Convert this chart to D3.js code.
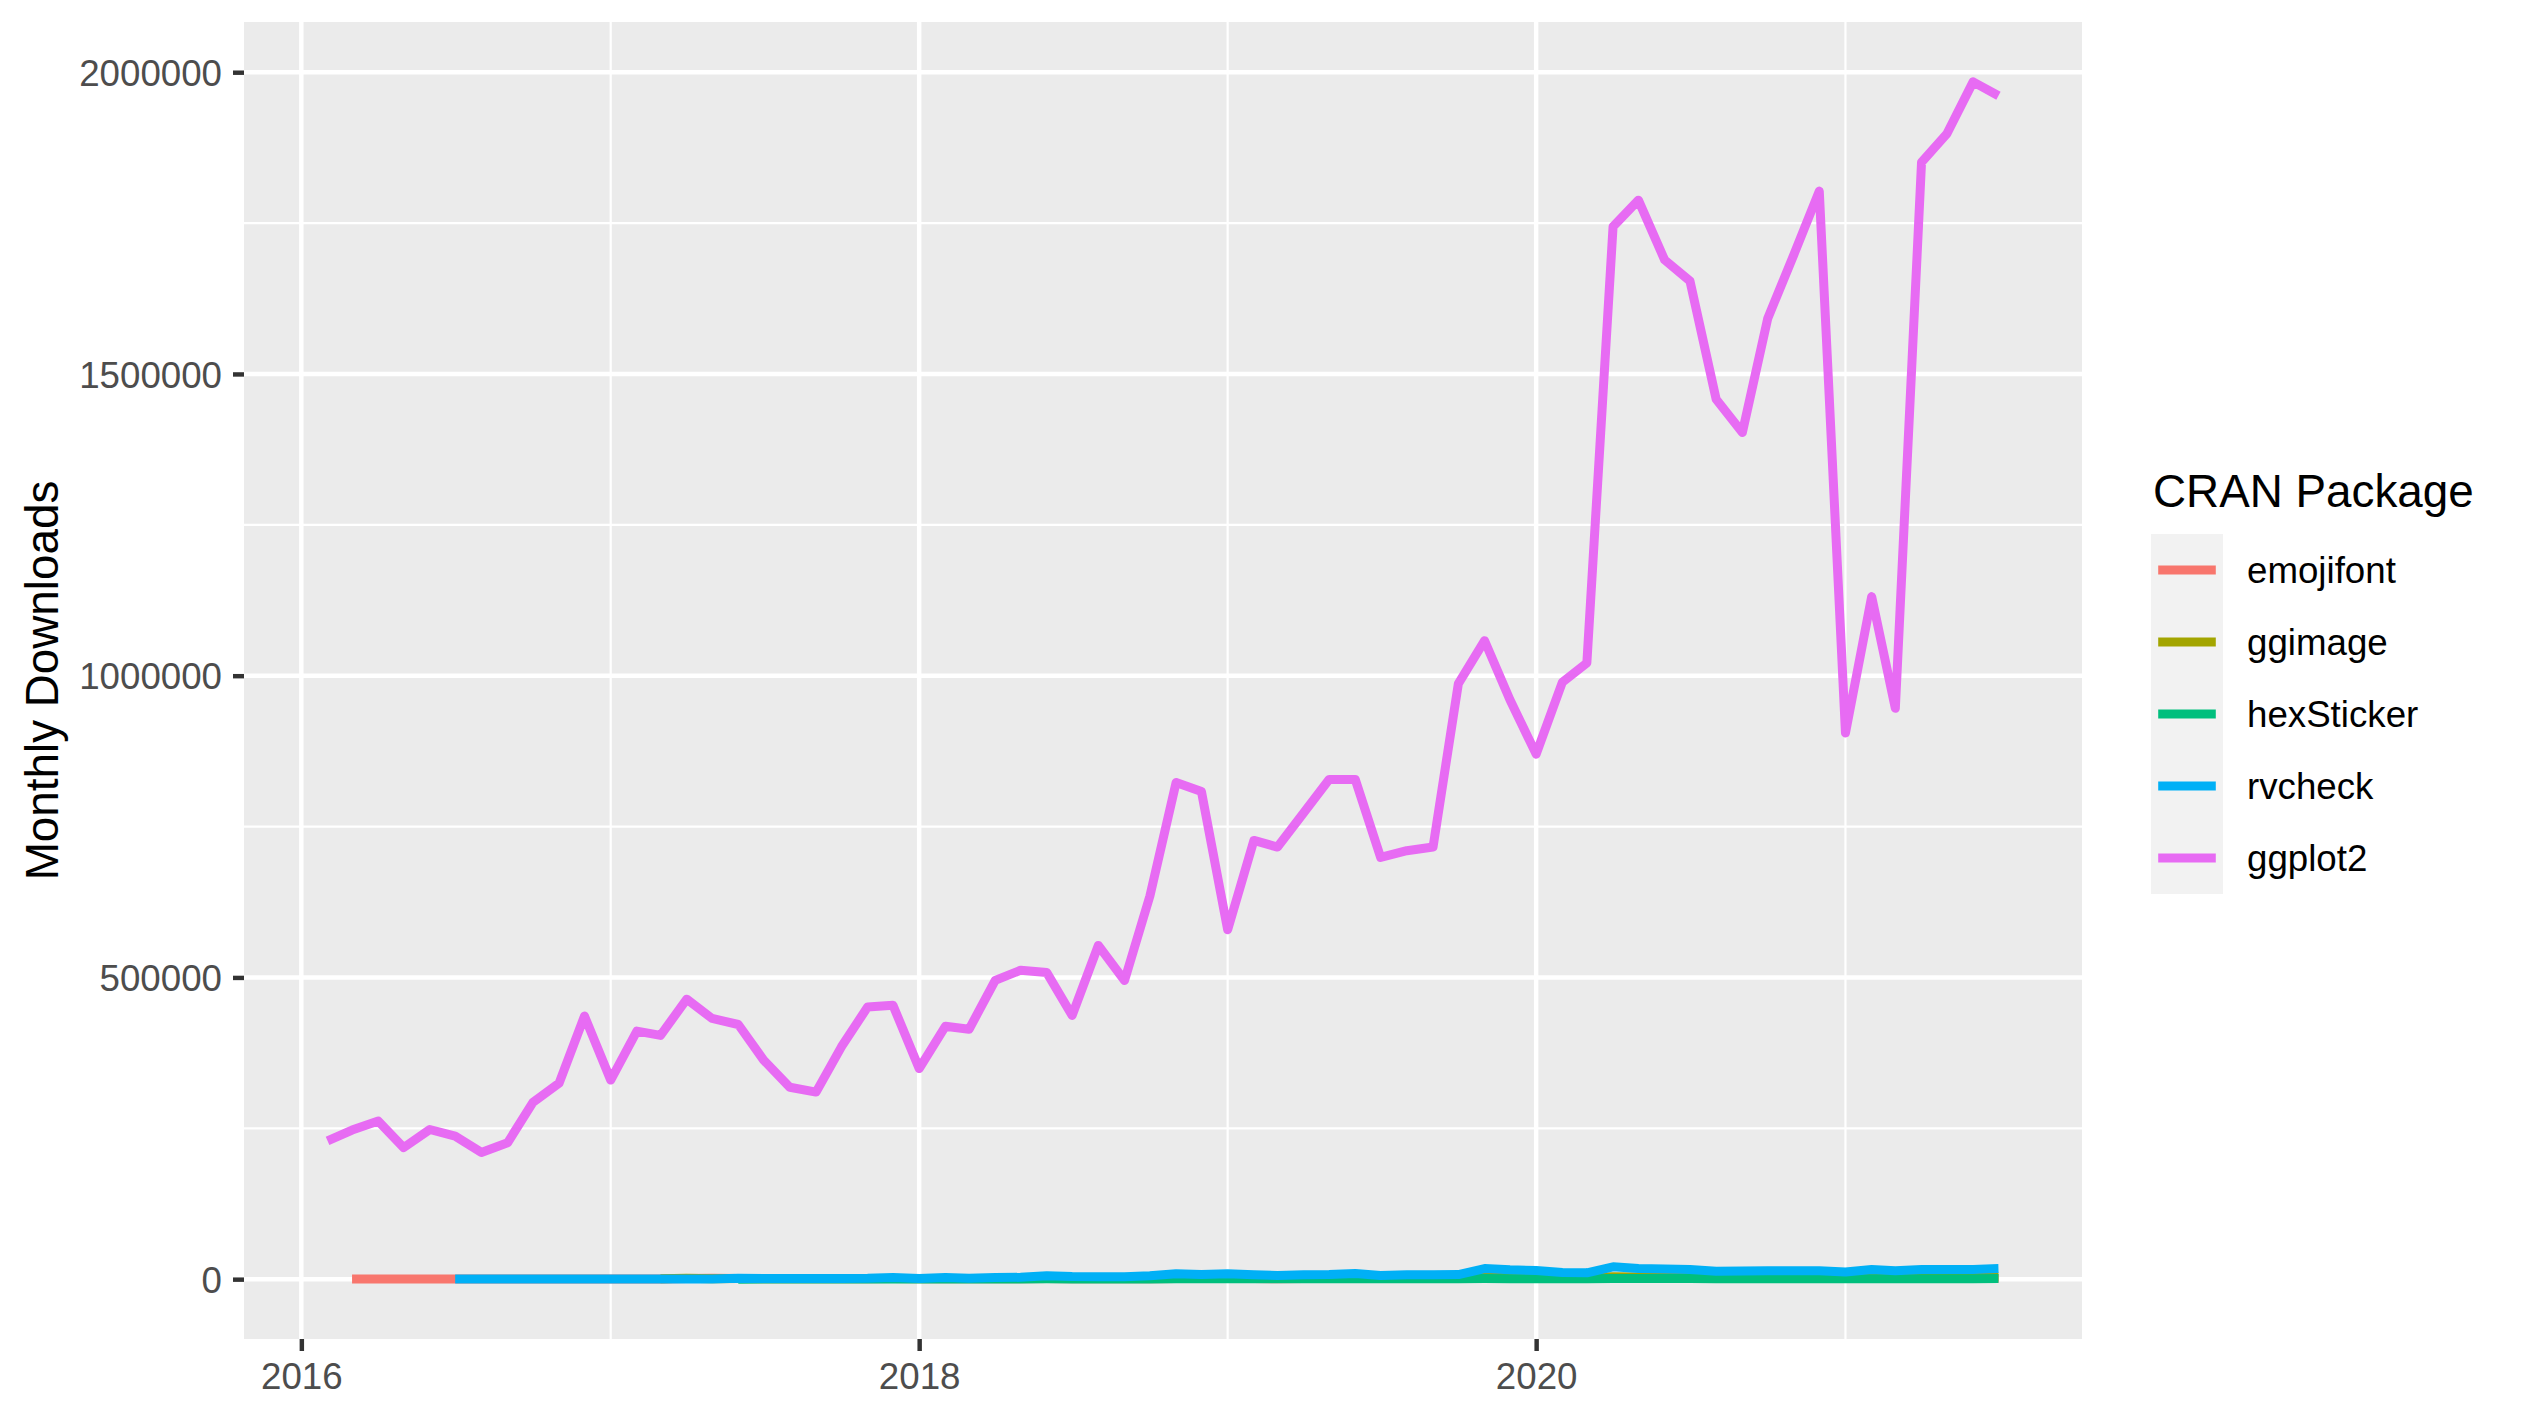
<!DOCTYPE html>
<html><head><meta charset="utf-8">
<script src="https://cdn.jsdelivr.net/npm/d3@7"></script>
<style>html,body{margin:0;padding:0;background:#fff;} svg{display:block;}</style>
</head><body>
<script>
// ---- data ----
const months = [
  "2016-02","2016-03","2016-04","2016-05","2016-06","2016-07","2016-08","2016-09","2016-10","2016-11","2016-12",
  "2017-01","2017-02","2017-03","2017-04","2017-05","2017-06","2017-07","2017-08","2017-09","2017-10","2017-11","2017-12",
  "2018-01","2018-02","2018-03","2018-04","2018-05","2018-06","2018-07","2018-08","2018-09","2018-10","2018-11","2018-12",
  "2019-01","2019-02","2019-03","2019-04","2019-05","2019-06","2019-07","2019-08","2019-09","2019-10","2019-11","2019-12",
  "2020-01","2020-02","2020-03","2020-04","2020-05","2020-06","2020-07","2020-08","2020-09","2020-10","2020-11","2020-12",
  "2021-01","2021-02","2021-03","2021-04","2021-05","2021-06","2021-07"
];
const seriesNames = ["emojifont","ggimage","hexSticker","rvcheck","ggplot2"];
const seriesColors = ["#F8766D","#A3A500","#00BF7D","#00B0F6","#E76BF3"];

const emojifont = [
  null,300,400,400,300,250,250,250,250,250,250,
  250,250,300,1200,1500,900,800,700,700,800,800,900,
  700,800,750,800,800,900,800,800,800,850,900,900,
  900,900,850,900,900,1000,900,900,900,1000,1200,1100,
  1100,1100,1100,1400,1300,1200,1200,1100,1100,1100,1100,1100,
  1000,1100,1000,1100,1100,1100,1200
];
const ggimage = [
  null,null,null,null,null,null,null,null,null,null,null,
  null,null,600,1600,800,1000,900,900,900,1000,1000,1100,
  1000,1100,1100,1200,1200,1400,1300,1300,1400,1600,1800,1700,
  1800,1800,1800,1900,1900,2000,1800,1800,1900,2100,2700,2600,
  2700,2700,2900,3800,3700,3400,3300,3000,3000,3000,3100,3200,
  2800,3300,3000,3400,3300,3400,3600
];
const hexSticker = [
  null,null,null,null,null,null,null,null,null,null,null,
  null,null,null,null,null,50,100,100,100,150,200,300,
  200,300,250,300,350,500,400,400,400,450,600,550,
  600,550,500,550,550,600,500,550,550,600,900,850,
  800,700,700,1100,1000,950,900,850,800,800,800,800,
  700,800,750,800,800,850,900
];
const rvcheck = [
  null,null,null,null,null,200,300,300,300,300,300,
  300,300,300,300,300,1500,1200,1200,1200,1300,1500,2800,
  1300,2900,1400,2800,3000,5800,4300,4200,4100,5500,9100,7600,
  9100,7500,6000,7300,7600,9300,6200,7200,7500,7600,17500,15500,
  14500,11000,10500,20500,17500,17000,16000,13000,13500,14000,14000,14000,
  12000,16000,14000,16000,16000,16200,17500
];
const ggplot2 = [
  229000,247000,262000,218000,248000,237000,210000,226000,293000,325000,436000,
  330000,411000,404000,464000,432000,422000,363000,318000,310000,385000,451000,454000,
  349000,419000,414000,495000,512000,508000,437000,553000,495000,635000,823000,808000,
  579000,727000,716000,773000,828000,828000,699000,710000,716000,987000,1058000,960000,
  870000,989000,1021000,1744000,1788000,1689000,1654000,1458000,1403000,1592000,1698000,1803000,
  905000,1131000,946000,1851000,1898000,1984000,1961000
];
const yTicks = [0,500000,1000000,1500000,2000000];
const yMinorTicks = [250000,750000,1250000,1750000];
const xTickYears = [2016,2018,2020];
const xMinorYears = [2017,2019,2021];
const yTitle = "Monthly Downloads";
const legendTitle = "CRAN Package";

// ---- layout ----
const W = 2521, H = 1418;
const P = {left:244, right:2082, top:22, bottom:1339};
const FONT = "'Liberation Sans', Arial, Helvetica, sans-serif";
const tickFont = 36.7, titleFont = 45.8;
const lineW = 9, majorW = 4.45, minorW = 2.2;

const parse = d3.utcParse("%Y-%m");
const dates = months.map(parse);
const seriesValues = [emojifont, ggimage, hexSticker, rvcheck, ggplot2];
const allVals = seriesValues.flat().filter(v => v != null);
const ymin = d3.min(allVals), ymax = d3.max(allVals);
const ypad = (ymax - ymin) * 0.05;
const y = d3.scaleLinear().domain([ymin - ypad, ymax + ypad]).range([P.bottom, P.top]);
const t0 = d3.min(dates), t1 = d3.max(dates), xpad = (t1 - t0) * 0.05;
const x = d3.scaleUtc().domain([new Date(+t0 - xpad), new Date(+t1 + xpad)]).range([P.left, P.right]);
const yearDate = yr => new Date(Date.UTC(yr, 0, 1));

const svg = d3.select("body").append("svg").attr("width", W).attr("height", H)
  .style("font-family", FONT);
svg.append("rect").attr("width", W).attr("height", H).attr("fill", "#ffffff");

// panel
svg.append("rect").attr("x", P.left).attr("y", P.top)
  .attr("width", P.right - P.left).attr("height", P.bottom - P.top).attr("fill", "#EBEBEB");

const grid = svg.append("g");
// minor gridlines
grid.selectAll(".ymin").data(yMinorTicks).join("line")
  .attr("x1", P.left).attr("x2", P.right).attr("y1", d => y(d)).attr("y2", d => y(d))
  .attr("stroke", "#fff").attr("stroke-width", minorW);
grid.selectAll(".xmin").data(xMinorYears).join("line")
  .attr("y1", P.top).attr("y2", P.bottom).attr("x1", d => x(yearDate(d))).attr("x2", d => x(yearDate(d)))
  .attr("stroke", "#fff").attr("stroke-width", minorW);
// major gridlines
grid.selectAll(".ymaj").data(yTicks).join("line")
  .attr("x1", P.left).attr("x2", P.right).attr("y1", d => y(d)).attr("y2", d => y(d))
  .attr("stroke", "#fff").attr("stroke-width", majorW);
grid.selectAll(".xmaj").data(xTickYears).join("line")
  .attr("y1", P.top).attr("y2", P.bottom).attr("x1", d => x(yearDate(d))).attr("x2", d => x(yearDate(d)))
  .attr("stroke", "#fff").attr("stroke-width", majorW);

// lines
const line = d3.line().defined(d => d.v != null).x(d => x(d.date)).y(d => y(d.v));
const lg = svg.append("g");
seriesValues.forEach((vals, i) => {
  const pts = vals.map((v, j) => ({date: dates[j], v}));
  lg.append("path").datum(pts).attr("d", line)
    .attr("fill", "none").attr("stroke", seriesColors[i]).attr("stroke-width", lineW)
    .attr("stroke-linejoin", "round").attr("stroke-linecap", "butt");
});

// axes
const yAxis = d3.axisLeft(y).tickValues(yTicks).tickFormat(d3.format("d")).tickSize(11).tickPadding(11);
const gy = svg.append("g").attr("transform", `translate(${P.left},0)`).call(yAxis);
const xAxis = d3.axisBottom(x).tickValues(xTickYears.map(yearDate)).tickFormat(d3.utcFormat("%Y")).tickSize(12).tickPadding(12);
const gx = svg.append("g").attr("transform", `translate(0,${P.bottom})`).call(xAxis);
[gy, gx].forEach(g => {
  g.select(".domain").remove();
  g.selectAll(".tick line").attr("stroke", "#333333").attr("stroke-width", majorW);
  g.selectAll(".tick text").attr("fill", "#4D4D4D").style("font-size", tickFont + "px").style("font-family", FONT);
});
gy.selectAll(".tick text").attr("dy", "0.36em");
gx.selectAll(".tick text").attr("dy", "0.71em");

// y title
svg.append("text").attr("transform", `translate(58,${(P.top + P.bottom) / 2}) rotate(-90)`)
  .attr("text-anchor", "middle").attr("fill", "#000").style("font-size", titleFont + "px").text(yTitle);

// legend
const L = {x: 2151, titleY: 507, keysY: 534, key: 72, labelX: 2247};
svg.append("text").attr("x", 2153).attr("y", L.titleY).attr("fill", "#000")
  .style("font-size", titleFont + "px").text(legendTitle);
const leg = svg.append("g");
seriesNames.forEach((name, i) => {
  const ky = L.keysY + i * L.key;
  leg.append("rect").attr("x", L.x).attr("y", ky).attr("width", L.key).attr("height", L.key).attr("fill", "#F2F2F2");
  leg.append("line").attr("x1", L.x + L.key * 0.1).attr("x2", L.x + L.key * 0.9)
    .attr("y1", ky + L.key / 2).attr("y2", ky + L.key / 2)
    .attr("stroke", seriesColors[i]).attr("stroke-width", lineW).attr("stroke-linecap", "butt");
  leg.append("text").attr("x", L.labelX).attr("y", ky + L.key / 2).attr("dy", "0.36em")
    .attr("fill", "#000").style("font-size", tickFont + "px").text(name);
});
</script>
</body></html>
